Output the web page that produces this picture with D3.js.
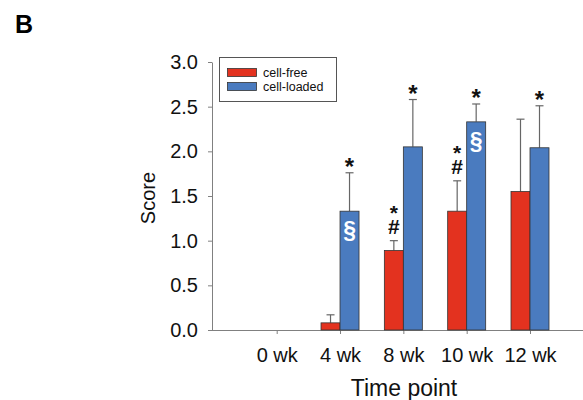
<!DOCTYPE html>
<html><head><meta charset="utf-8">
<script src="https://cdn.jsdelivr.net/npm/d3@7"></script>
<style>body{margin:0;background:#fff}svg{display:block}text{font-family:"Liberation Sans",Arial,sans-serif}</style>
</head><body>
<svg id="c" width="583" height="400"></svg>
<script>
const categories = ["0 wk","4 wk","8 wk","10 wk","12 wk"];
const seriesNames = ["cell-free","cell-loaded"];
const cellFree = [0, 0.08, 0.89, 1.33, 1.55];
const cellFreeErr = [0, 0.09, 0.11, 0.34, 0.81];
const cellLoaded = [0, 1.33, 2.05, 2.33, 2.04];
const cellLoadedErr = [0, 0.43, 0.53, 0.20, 0.47];
const cellFreeMarks = ["", "", "*#", "*#", ""];
const cellLoadedMarks = ["", "*§", "*", "*§", "*"];
const yTicks = [0,0.5,1.0,1.5,2.0,2.5,3.0];

const svg = d3.select("#c");
const colors = ["#e3321f","#4a7bbf"];
const x = d3.scalePoint().domain(categories).range([276.7, 530]);
const y = d3.scaleLinear().domain([0,3]).range([330, 62]);
const bw = 19;

svg.append("text").attr("x",15).attr("y",33).attr("font-size",25).attr("font-weight","bold").text("B");

// y axis
const ya = svg.append("g").attr("transform","translate(212,0)")
  .call(d3.axisLeft(y).tickValues(yTicks).tickFormat(d3.format(".1f")).tickSize(4).tickSizeOuter(0).tickPadding(10));
ya.select(".domain").attr("stroke","#808080");
ya.selectAll(".tick line").attr("stroke","#808080");
ya.selectAll(".tick text").attr("font-size",20).attr("fill","#111").attr("font-family","Liberation Sans, Arial, sans-serif");

// x axis
const xa = svg.append("g").attr("transform","translate(0,330)")
  .call(d3.axisBottom(x).tickSize(4).tickSizeOuter(0).tickPadding(14));
xa.select(".domain").attr("d","M212,0.5H583").attr("stroke","#808080");
xa.selectAll(".tick line").attr("stroke","#808080");
xa.selectAll(".tick text").attr("font-size",20).attr("fill","#111").attr("font-family","Liberation Sans, Arial, sans-serif");

svg.append("text").attr("transform","translate(155,198) rotate(-90)").attr("text-anchor","middle")
  .attr("font-size",20).attr("fill","#111").text("Score");
svg.append("text").attr("x",404).attr("y",396).attr("text-anchor","middle")
  .attr("font-size",23).attr("fill","#111").text("Time point");

const series = [
  {vals: cellFree, errs: cellFreeErr, marks: cellFreeMarks, off: -bw},
  {vals: cellLoaded, errs: cellLoadedErr, marks: cellLoadedMarks, off: 0}
];
series.forEach((s, si) => {
  const g = svg.append("g");
  categories.forEach((c, i) => {
    const v = s.vals[i];
    if (v <= 0) return;
    const x0 = x(c) + s.off;
    const cx = x0 + bw/2;
    const top = s.vals[i] + s.errs[i];
    // error bar
    g.append("line").attr("x1",cx).attr("x2",cx).attr("y1",y(v)).attr("y2",y(top)).attr("stroke","#666").attr("stroke-width",1.2);
    g.append("line").attr("x1",cx-4).attr("x2",cx+4).attr("y1",y(top)).attr("y2",y(top)).attr("stroke","#666").attr("stroke-width",1.2);
    g.append("rect").attr("x",x0).attr("y",y(v)).attr("width",bw).attr("height",y(0)-y(v))
      .attr("fill",colors[si]).attr("stroke","#333").attr("stroke-width",0.8);
    const m = s.marks[i];
    const et = y(top);
    if (m.includes("#")) {
      g.append("text").attr("x",cx).attr("y",et-40)
        .attr("writing-mode","vertical-rl")
        .style("text-orientation","upright")
        .style("letter-spacing","-8.5px")
        .attr("font-size",21).attr("font-weight","bold").attr("fill","#111").text("*#");
    } else if (m.includes("*")) {
      g.append("text").attr("x",cx).attr("y",et+2).attr("text-anchor","middle").attr("font-size",24).attr("font-weight","bold").attr("fill","#111").text("*");
    }
    if (m.includes("§")) {
      g.append("text").attr("x",cx).attr("y",y(v)+27).attr("text-anchor","middle").attr("font-size",23).attr("font-weight","bold").attr("fill","#fff").text("§");
    }
  });
});

// legend
const lg = svg.append("g");
lg.append("rect").attr("x",219.5).attr("y",57.5).attr("width",117).attr("height",44).attr("fill","#fff").attr("stroke","#555").attr("stroke-width",1);
seriesNames.forEach((n, i) => {
  lg.append("rect").attr("x",227.5).attr("y",68.5+i*14).attr("width",29).attr("height",8).attr("fill",colors[i]).attr("stroke","#333").attr("stroke-width",0.8);
  lg.append("text").attr("x",263).attr("y",77+i*14).attr("font-size",12.5).attr("fill","#111").text(n);
});
</script>
</body></html>
